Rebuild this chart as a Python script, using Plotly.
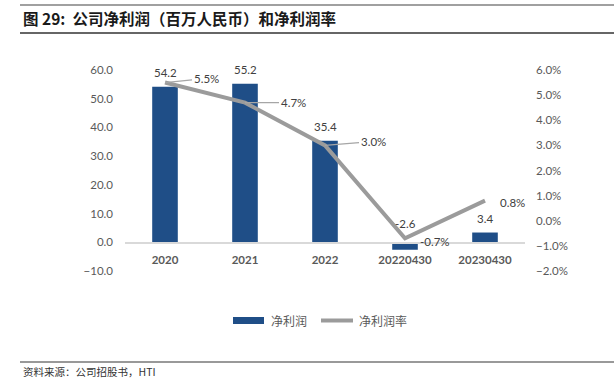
import plotly.graph_objects as go

categories = ["2020", "2021", "2022", "20220430", "20230430"]
net_profit = [54.2, 55.2, 35.4, -2.6, 3.4]          # 百万人民币
net_margin = [0.055, 0.047, 0.030, -0.007, 0.008]   # 净利润率

left_ticks = [-10, 0, 10, 20, 30, 40, 50, 60]
right_ticks = [-0.02, -0.01, 0, 0.01, 0.02, 0.03, 0.04, 0.05, 0.06]

series_names = ["净利润", "净利润率"]
title_text = "图 29:  公司净利润（百万人民币）和净利润率"
source_text = "资料来源：公司招股书，HTI"

BAR = "#1F4E87"
LINE = "#9B9B9B"
TICK = "#595959"
NUM_FONT = "Lato, 'Liberation Sans', sans-serif"
CJK = "'Noto Sans CJK SC', sans-serif"

W, H = 614, 381
L, R, T, B = 125, 89, 70, 110
pw, ph = W - L - R, H - T - B


def px(xp):
    return (xp - L) / pw


def py(yp):
    return (H - B - yp) / ph


xpos = list(range(len(categories)))

fig = go.Figure()
fig.add_trace(go.Bar(
    x=xpos, y=net_profit, name=series_names[0],
    marker=dict(color=BAR, line=dict(width=0)), width=0.32,
    yaxis="y",
))
fig.add_trace(go.Scatter(
    x=xpos, y=net_margin, name=series_names[1], mode="lines",
    line=dict(color=LINE, width=4), yaxis="y2",
))

annotations = []
# bar value labels
for i, v in zip(xpos, net_profit):
    annotations.append(dict(
        x=i, y=max(v, 0), xref="x", yref="y", text=f"{v:.1f}",
        showarrow=False, yanchor="bottom", yshift=6 if v >= 0 else 10,
        font=dict(family=NUM_FONT, size=11.5, color="#404040"),
    ))

# line labels (pixel offsets for label placement with leader lines)
offsets = [(41, -4, True), (48, 0, True), (48, -4, True), (30, 3, False), (27, 2, False)]
for i, v, (ax, ay, arrow) in zip(xpos, net_margin, offsets):
    a = dict(
        x=i, y=v, xref="x", yref="y2", text=f"{v*100:.1f}%",
        font=dict(family=NUM_FONT, size=11.5, color="#404040"),
    )
    if arrow:
        a.update(showarrow=True, arrowhead=0, arrowwidth=1.2, arrowcolor="#A6A6A6",
                 ax=ax, ay=ay, standoff=0)
    else:
        a.update(showarrow=False, xshift=ax, yshift=-ay)
    annotations.append(a)

annotations.append(dict(
    x=px(21), y=py(18), xref="paper", yref="paper", xanchor="left", yanchor="middle",
    text="<b>" + title_text + "</b>", showarrow=False,
    font=dict(family=CJK, size=15.5, color="#1A1A1A"),
))
annotations.append(dict(
    x=px(21), y=py(371), xref="paper", yref="paper", xanchor="left", yanchor="middle",
    text=source_text, showarrow=False,
    font=dict(family=CJK, size=10.5, color="#333333"),
))

# manual legend (wide bar swatch, line swatch)
annotations.append(dict(
    x=px(269), y=py(320), xref="paper", yref="paper", xanchor="left", yanchor="middle",
    text=series_names[0], showarrow=False, font=dict(family=CJK, size=12, color=TICK),
))
annotations.append(dict(
    x=px(357), y=py(320), xref="paper", yref="paper", xanchor="left", yanchor="middle",
    text=series_names[1], showarrow=False, font=dict(family=CJK, size=12, color=TICK),
))

shapes = [
    dict(type="line", xref="paper", yref="paper", x0=px(20), x1=px(614), y0=py(5), y1=py(5),
         line=dict(color="#A0A0A0", width=2)),
    dict(type="line", xref="paper", yref="paper", x0=px(20), x1=px(614), y0=py(33), y1=py(33),
         line=dict(color="#333333", width=1.5)),
    dict(type="line", xref="paper", yref="paper", x0=px(20), x1=px(614), y0=py(362), y1=py(362),
         line=dict(color="#999999", width=2)),
    dict(type="rect", xref="paper", yref="paper", x0=px(233), x1=px(264), y0=py(317), y1=py(324),
         fillcolor=BAR, line=dict(width=0)),
    dict(type="line", xref="paper", yref="paper", x0=px(321), x1=px(353), y0=py(320.5), y1=py(320.5),
         line=dict(color=LINE, width=4)),
]

fig.update_layout(
    width=W, height=H,
    margin=dict(l=L, r=R, t=T, b=B),
    paper_bgcolor="white", plot_bgcolor="white",
    showlegend=False,
    xaxis=dict(
        range=[-0.5, len(categories) - 0.5],
        tickvals=xpos, ticktext=categories,
        anchor="free", position=py(243),
        showline=True, linecolor="#D9D9D9", linewidth=1.5,
        ticks="", showgrid=False, zeroline=False, ticklabelstandoff=6,
        tickfont=dict(family=NUM_FONT, size=11.5, color=TICK, weight="bold"),
    ),
    yaxis=dict(
        range=[-10, 60], tickvals=left_ticks, tickformat=".1f",
        showgrid=False, zeroline=False, showline=False, ticks="",
        ticklabelstandoff=11,
        tickfont=dict(family=NUM_FONT, size=11.5, color=TICK),
    ),
    yaxis2=dict(
        range=[-0.02, 0.06], tickvals=right_ticks, tickformat=".1%",
        overlaying="y", side="right",
        showgrid=False, zeroline=False, showline=False, ticks="",
        ticklabelstandoff=10,
        tickfont=dict(family=NUM_FONT, size=11.5, color=TICK),
    ),
    annotations=annotations,
    shapes=shapes,
)

fig.write_html("out.html", config={"displayModeBar": False},
               post_script="document.body.style.margin='0';")
